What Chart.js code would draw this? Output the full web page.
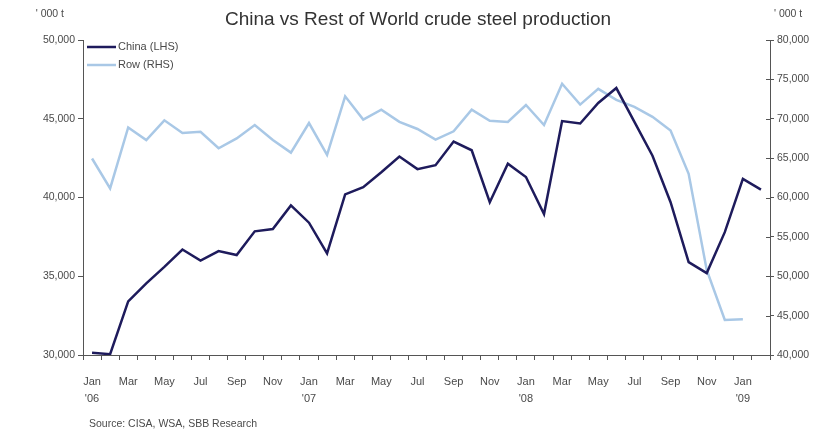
<!DOCTYPE html>
<html>
<head>
<meta charset="utf-8">
<title>China vs Rest of World crude steel production</title>
<script src="https://cdn.jsdelivr.net/npm/chart.js@4/dist/chart.umd.min.js"></script>
<style>
  html, body { margin: 0; padding: 0; background: #ffffff; }
  #wrap { width: 837px; height: 437px; position: relative; }
</style>
</head>
<body>
<div id="wrap"><canvas id="c" width="837" height="437"></canvas></div>
<script>
// Monthly categories, Jan 2006 – Feb 2009
const months = ['Jan','Feb','Mar','Apr','May','Jun','Jul','Aug','Sep','Oct','Nov','Dec',
                'Jan','Feb','Mar','Apr','May','Jun','Jul','Aug','Sep','Oct','Nov','Dec',
                'Jan','Feb','Mar','Apr','May','Jun','Jul','Aug','Sep','Oct','Nov','Dec',
                'Jan','Feb'];
const years = ["'06", '', '', '', '', '', '', '', '', '', '', '',
               "'07", '', '', '', '', '', '', '', '', '', '', '',
               "'08", '', '', '', '', '', '', '', '', '', '', '',
               "'09", ''];

// China crude steel output, '000 t (left axis)
const chinaValues = [30150, 30050, 33400, 34550, 35600, 36700, 36000, 36600, 36350, 37850,
                     38000, 39500, 38400, 36450, 40200, 40650, 41600, 42600, 41800, 42050,
                     43550, 43000, 39700, 42150, 41300, 38950, 44850, 44700, 46000, 46950,
                     44800, 42650, 39700, 35900, 35200, 37800, 41180, 40500];

// Rest of world crude steel output, '000 t (right axis)
const rowValues = [64950, 61150, 68900, 67300, 69800, 68200, 68350, 66250, 67500, 69200,
                   67300, 65700, 69450, 65400, 72850, 69900, 71150, 69600, 68700, 67350,
                   68400, 71150, 69750, 69600, 71750, 69200, 74450, 71800, 73800, 72400,
                   71500, 70250, 68500, 63000, 50800, 44450, 44550, null];

const leftTicks = [30000, 35000, 40000, 45000, 50000];
const rightTicks = [40000, 45000, 50000, 55000, 60000, 65000, 70000, 75000, 80000];

const titleText = 'China vs Rest of World crude steel production';
const unitText = "' 000 t";
const sourceText = 'Source: CISA, WSA, SBB Research';
const legendOrder = ['China (LHS)', 'Row (RHS)'];

const chinaColor = '#1e1b5c';
const rowColor = '#a9c8e6';
const axisColor = '#555555';
const textColor = '#4a4a4a';
const fontFamily = 'Arial, "Liberation Sans", Helvetica, sans-serif';

// Titles, unit captions, legend, source line and inward right-axis ticks
const decorations = {
  id: 'decorations',
  afterDraw(chart) {
    const ctx = chart.ctx;
    const area = chart.chartArea;
    const yR = chart.scales.yRight;
    ctx.save();

    // inner half of the crossing tick marks on the right axis
    ctx.strokeStyle = axisColor;
    ctx.lineWidth = 1;
    rightTicks.forEach(v => {
      const y = Math.round(yR.getPixelForValue(v)) + 0.5;
      ctx.beginPath();
      ctx.moveTo(area.right - 4, y);
      ctx.lineTo(area.right, y);
      ctx.stroke();
    });

    ctx.fillStyle = '#333333';
    ctx.font = '19px ' + fontFamily;
    ctx.textAlign = 'center';
    ctx.textBaseline = 'middle';
    ctx.fillText(titleText, 418, 20);

    ctx.fillStyle = textColor;
    ctx.font = '10.5px ' + fontFamily;
    ctx.textAlign = 'right';
    ctx.fillText(unitText, 64, 14);
    ctx.textAlign = 'left';
    ctx.fillText(unitText, 774, 14);

    ctx.fillText(sourceText, 89, 424);

    // legend
    ctx.font = '11px ' + fontFamily;
    legendOrder.forEach((name, i) => {
      const ds = chart.data.datasets.find(d => d.label === name);
      const y = 47 + i * 18;
      ctx.strokeStyle = ds.borderColor;
      ctx.lineWidth = 2.5;
      ctx.beginPath();
      ctx.moveTo(87, y);
      ctx.lineTo(116, y);
      ctx.stroke();
      ctx.fillStyle = textColor;
      ctx.fillText(ds.label, 118, y);
    });

    ctx.restore();
  }
};

new Chart(document.getElementById('c'), {
  type: 'line',
  data: {
    labels: months,
    datasets: [
      {
        label: 'Row (RHS)',
        data: rowValues,
        yAxisID: 'yRight',
        borderColor: rowColor,
        borderWidth: 2.5,
        pointRadius: 0,
        tension: 0,
        spanGaps: false,
        order: 2
      },
      {
        label: 'China (LHS)',
        data: chinaValues,
        yAxisID: 'yLeft',
        borderColor: chinaColor,
        borderWidth: 2.5,
        pointRadius: 0,
        tension: 0,
        order: 1
      }
    ]
  },
  options: {
    responsive: false,
    animation: false,
    devicePixelRatio: 1,
    layout: { padding: { top: 40, left: 0, right: 0, bottom: 0 } },
    plugins: {
      legend: { display: false },
      title: { display: false },
      tooltip: { enabled: false }
    },
    scales: {
      x: {
        type: 'category',
        offset: true,
        grid: {
          offset: true,
          drawOnChartArea: false,
          drawTicks: true,
          tickLength: 5,
          tickColor: axisColor
        },
        border: { display: true, color: axisColor, width: 1 },
        ticks: {
          autoSkip: false,
          maxRotation: 0,
          minRotation: 0,
          padding: 13,
          color: textColor,
          font: { size: 11, family: fontFamily, lineHeight: 1.55 },
          callback: function (value, index) {
            if (index % 2 !== 0) return '';
            return years[index] ? [months[index], years[index]] : months[index];
          }
        },
        afterFit(scale) { scale.height = 437 - 355; }
      },
      yLeft: {
        type: 'linear',
        position: 'left',
        min: 30000,
        max: 50000,
        afterBuildTicks(scale) { scale.ticks = leftTicks.map(v => ({ value: v })); },
        grid: { drawOnChartArea: false, tickLength: 5, tickColor: axisColor },
        border: { display: true, color: axisColor, width: 1 },
        ticks: {
          color: textColor,
          padding: 3,
          font: { size: 10.5, family: fontFamily },
          callback: v => v.toLocaleString('en-US')
        },
        afterFit(scale) { scale.width = 83; }
      },
      yRight: {
        type: 'linear',
        position: 'right',
        min: 40000,
        max: 80000,
        afterBuildTicks(scale) { scale.ticks = rightTicks.map(v => ({ value: v })); },
        grid: { drawOnChartArea: false, tickLength: 4, tickColor: axisColor },
        border: { display: true, color: axisColor, width: 1 },
        ticks: {
          color: textColor,
          padding: 3,
          font: { size: 10.5, family: fontFamily },
          callback: v => v.toLocaleString('en-US')
        },
        afterFit(scale) { scale.width = 837 - 770; }
      }
    }
  },
  plugins: [decorations]
});
</script>
</body>
</html>
